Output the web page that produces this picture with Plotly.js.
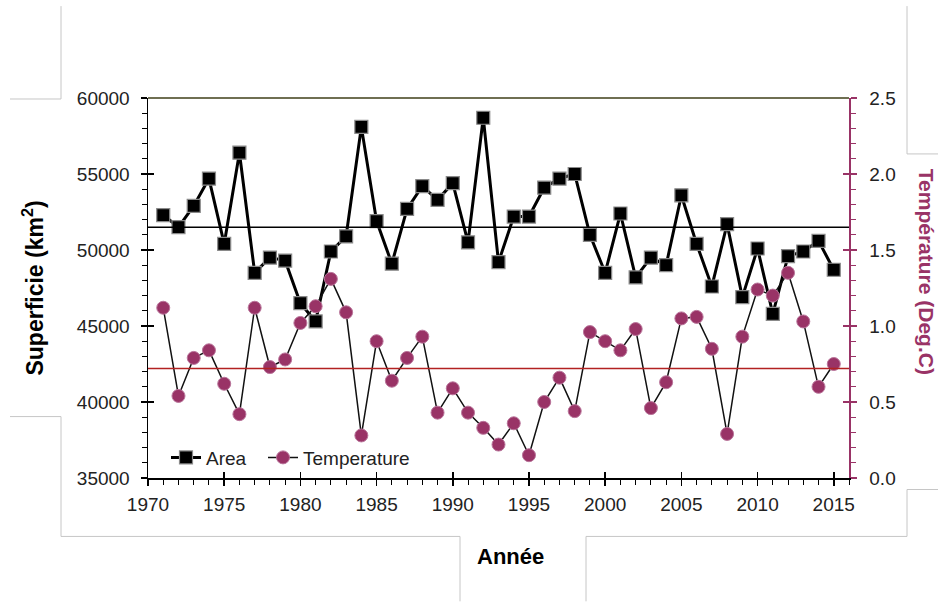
<!DOCTYPE html>
<html>
<head>
<meta charset="utf-8">
<script src="https://cdn.plot.ly/plotly-3.0.1.min.js"></script>
<style>html,body{margin:0;padding:0;background:#fff;}#chart{width:938px;height:602px;}</style>
</head>
<body>
<div id="chart"></div>
<script>
// ---- data ----
const years = [1971,1972,1973,1974,1975,1976,1977,1978,1979,1980,1981,1982,1983,1984,1985,1986,1987,1988,1989,1990,1991,1992,1993,1994,1995,1996,1997,1998,1999,2000,2001,2002,2003,2004,2005,2006,2007,2008,2009,2010,2011,2012,2013,2014,2015];
const area = [52300,51500,52900,54700,50400,56400,48500,49500,49300,46500,45300,49900,50900,58100,51900,49100,52700,54200,53300,54400,50500,58700,49200,52200,52200,54100,54700,55000,51000,48500,52400,48200,49500,49000,53600,50400,47600,51700,46900,50100,45800,49600,49900,50600,48700];
const temperature = [1.12,0.54,0.79,0.84,0.62,0.42,1.12,0.73,0.78,1.02,1.13,1.31,1.09,0.28,0.90,0.64,0.79,0.93,0.43,0.59,0.43,0.33,0.22,0.36,0.15,0.50,0.66,0.44,0.96,0.90,0.84,0.98,0.46,0.63,1.05,1.06,0.85,0.29,0.93,1.24,1.20,1.35,1.03,0.60,0.75];
const areaMean = 51500;
const tempMean = 0.72;
const seriesNames = ["Area", "Temperature"];
const xTitle = "Année";
const yTitle = "Superficie (km<sup>2</sup>)";
const y2Title = "Température (Deg.C)";

// ---- styling ----
const FONT = "Liberation Sans, Arial, sans-serif";
const PLUM = "#993366";
const W = 938, H = 602;
const M = {l:148, r:89, t:98, b:123.5};
const PW = W - M.l - M.r, PH = H - M.t - M.b;
const px = x => (x - M.l) / PW;
const py = y => (H - M.b - y) / PH;

function seg(pts, color){
  let d = "M " + px(pts[0][0]) + " " + py(pts[0][1]);
  for (let i=1;i<pts.length;i++) d += " L " + px(pts[i][0]) + " " + py(pts[i][1]);
  return {type:"path", xref:"paper", yref:"paper", path:d, line:{color:color||"#c6c6c6", width:1}, layer:"below"};
}

const traces = [
  {x: years, y: area, name: seriesNames[0], type:"scatter", mode:"lines+markers",
   line:{color:"#000", width:3}, legendwidth:52,
   marker:{symbol:"square", size:13, color:"#000", line:{color:"#8a8a8a", width:1.2}},
   xaxis:"x", yaxis:"y"},
  {x: years, y: temperature, name: seriesNames[1], type:"scatter", mode:"lines+markers",
   line:{color:"#111", width:1.5},
   marker:{symbol:"circle", size:13, color:PLUM, line:{color:"#b9749a", width:1}},
   xaxis:"x", yaxis:"y2"}
];

const TICKFONT = {family:FONT, size:19, color:"#222"};

const layout = {
  width: W, height: H,
  margin: M,
  paper_bgcolor:"#fff", plot_bgcolor:"#fff",
  font:{family:FONT, size:18, color:"#222"},
  showlegend:true,
  legend:{orientation:"h", x:px(166), y:py(458), xanchor:"left", yanchor:"middle",
          bgcolor:"rgba(0,0,0,0)", font:{family:FONT, size:19, color:"#222"}, itemwidth:30},
  xaxis:{range:[1970,2016], dtick:5, tick0:1970, ticks:"outside", ticklen:6, tickwidth:1.5, tickcolor:"#000",
         showline:true, linecolor:"#000", linewidth:1.5, showgrid:false, zeroline:false,
         minor:{dtick:1, ticks:"outside", ticklen:5, tickcolor:"#000", tickwidth:1},
         ticklabelstandoff:3,
         tickfont:TICKFONT},
  yaxis:{range:[35000,60000], dtick:5000, tickformat:"d", ticks:"outside", ticklen:6, tickwidth:1.5, tickcolor:"#000",
         showline:true, linecolor:"#000", linewidth:1.5, showgrid:false, zeroline:false,
         minor:{dtick:1000, ticks:"outside", ticklen:5, tickcolor:"#000", tickwidth:1},
         ticklabelstandoff:7,
         tickfont:TICKFONT,
         title:{text:yTitle, font:{family:FONT, size:23, color:"#000", weight:"bold"}, standoff:27}},
  yaxis2:{range:[0,2.5], dtick:0.5, tickformat:".1f", overlaying:"y", side:"right", anchor:"x",
          ticks:"outside", ticklen:6, tickwidth:1.5, tickcolor:PLUM,
          showline:true, linecolor:PLUM, linewidth:1.5, showgrid:false, zeroline:false,
          minor:{dtick:0.1, ticks:"outside", ticklen:5, tickcolor:PLUM, tickwidth:1},
          ticklabelstandoff:9,
          tickfont:TICKFONT},
  // overlay axes giving the "crossing" look of the major ticks
  xaxis2:{range:[1970,2016], dtick:5, tick0:1970, overlaying:"x", anchor:"y", side:"bottom",
          ticks:"inside", ticklen:6, tickwidth:1.5, tickcolor:"#000", showticklabels:false,
          showline:false, showgrid:false, zeroline:false},
  yaxis3:{range:[35000,60000], dtick:5000, overlaying:"y", anchor:"x", side:"left",
          ticks:"inside", ticklen:6, tickwidth:1.5, tickcolor:"#000", showticklabels:false,
          showline:false, showgrid:false, zeroline:false},
  yaxis4:{range:[0,2.5], dtick:0.5, overlaying:"y", anchor:"x", side:"right",
          ticks:"inside", ticklen:6, tickwidth:1.5, tickcolor:PLUM, showticklabels:false,
          showline:false, showgrid:false, zeroline:false},
  shapes:[
    {type:"line", xref:"paper", x0:0, x1:1, yref:"y", y0:areaMean, y1:areaMean, line:{color:"#000", width:1.5}},
    {type:"line", xref:"paper", x0:0, x1:1, yref:"y2", y0:tempMean, y1:tempMean, line:{color:"#b22222", width:1.5}},
    {type:"line", xref:"paper", x0:0, x1:1, yref:"paper", y0:1, y1:1, line:{color:"#6f6f52", width:2}},
    seg([[10,99],[61,99],[61,6]]),
    seg([[10,417],[61,417],[61,537],[460,537],[460,602]]),
    seg([[586,602],[586,537],[907,537],[907,490],[938,490]]),
    seg([[907,6],[907,154],[938,154]])
  ],
  annotations:[
    {text:xTitle, xref:"paper", yref:"paper", x:px(510), y:py(557), xanchor:"center", yanchor:"middle",
     showarrow:false, font:{family:FONT, size:22, color:"#000", weight:"bold"}},
    {text:y2Title, xref:"paper", yref:"paper", x:px(926), y:py(272), xanchor:"center", yanchor:"middle",
     textangle:90, showarrow:false, font:{family:FONT, size:21, color:PLUM, weight:"bold"}}
  ]
};

// invisible helper traces so the overlay tick axes are drawn
traces.push({x:[1970], y:[35000], xaxis:"x2", yaxis:"y3", type:"scatter", mode:"markers",
             marker:{opacity:0}, showlegend:false, hoverinfo:"skip"});
traces.push({x:[1970], y:[0], xaxis:"x2", yaxis:"y4", type:"scatter", mode:"markers",
             marker:{opacity:0}, showlegend:false, hoverinfo:"skip"});

Plotly.newPlot("chart", traces, layout, {displayModeBar:false, staticPlot:true});
</script>
</body>
</html>
